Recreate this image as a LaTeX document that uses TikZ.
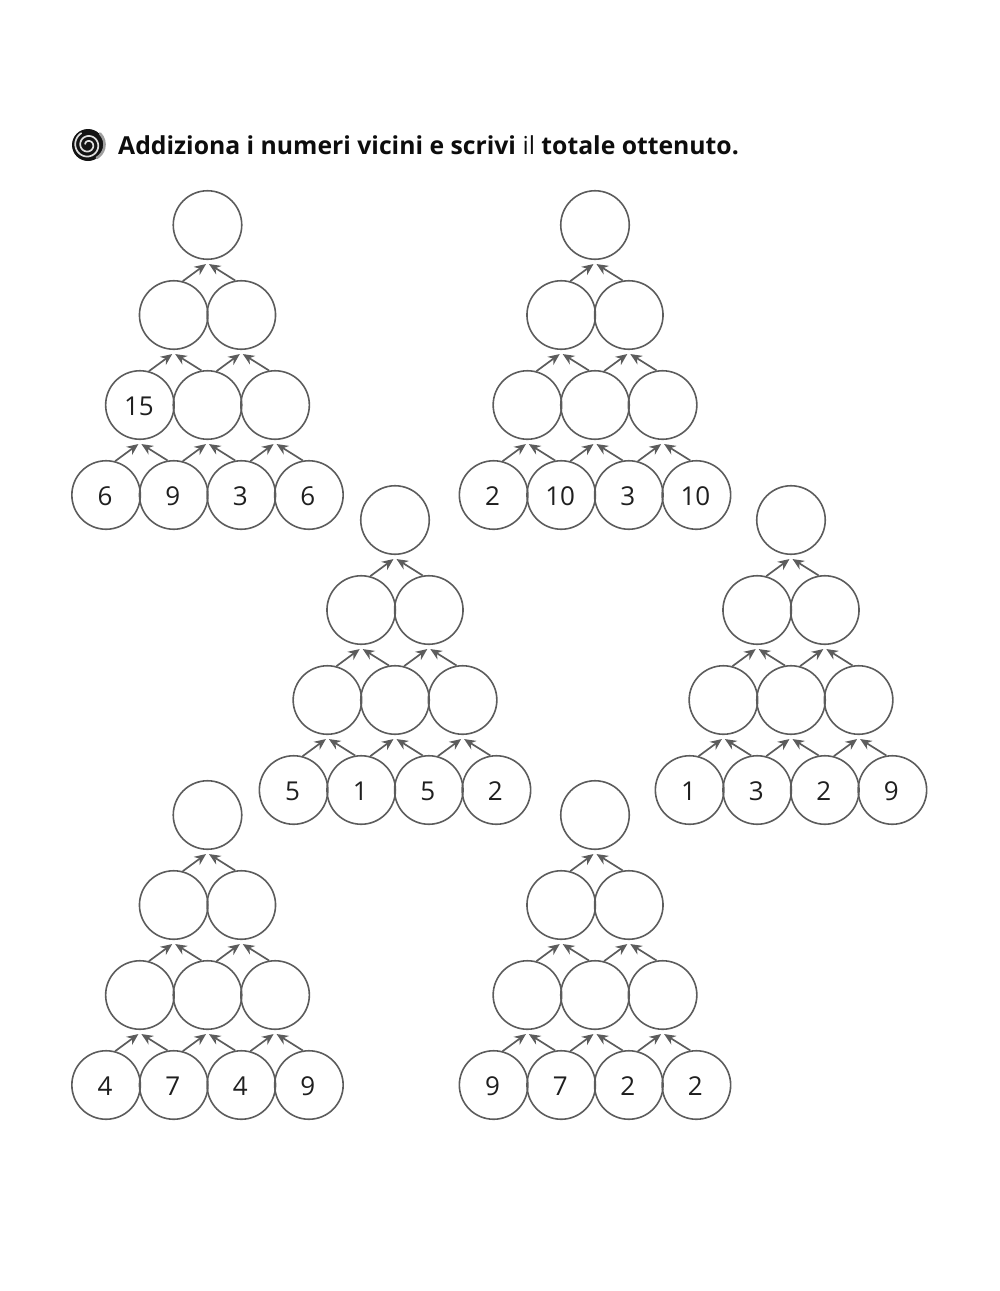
\documentclass[tikz,border=0pt]{standalone}
\usepackage{fontspec}
\setmainfont{Open Sans}
\usetikzlibrary{arrows.meta}
\definecolor{ringgray}{gray}{0.36}
\definecolor{arrowgray}{gray}{0.36}
\tikzset{
  ring/.style={circle,draw=ringgray,line width=1.6pt,minimum size=68.5pt,inner sep=0pt,
    font=\fontsize{26}{28}\selectfont,text=black!88},
  uparrow/.style={draw=arrowgray,line width=1.7pt,-{Stealth[length=11.5pt,width=10pt]}}
}
\newcommand{\lbl}[1]{\raisebox{-1pt}[19pt][0pt]{\hspace*{-2pt}#1}}
% child at lower left of its parent / lower right of its parent
\newcommand{\arrowfromleft}[2]{\path[uparrow] (#1.75) -- ([shift={(-1.5,4)}]#2.south);}
\newcommand{\arrowfromright}[2]{\path[uparrow] (#1.100) -- ([shift={(1.5,4)}]#2.south);}
\newcommand{\pyramid}[8]{%
  \begin{scope}[shift={(#2,#3)}]
    \node[ring] (#1t)  at (0,0) {};
    \node[ring] (#1ma) at (-33.8,90) {};
    \node[ring] (#1mb) at (33.8,90) {};
    \node[ring] (#1na) at (-67.6,180) {\lbl{#8}};
    \node[ring] (#1nb) at (0,180) {};
    \node[ring] (#1nc) at (67.6,180) {};
    \node[ring] (#1ba) at (-101.4,270) {\lbl{#4}};
    \node[ring] (#1bb) at (-33.8,270) {\lbl{#5}};
    \node[ring] (#1bc) at (33.8,270) {\lbl{#6}};
    \node[ring] (#1bd) at (101.4,270) {\lbl{#7}};
    \arrowfromleft{#1ma}{#1t}  \arrowfromright{#1mb}{#1t}
    \arrowfromleft{#1na}{#1ma} \arrowfromright{#1nb}{#1ma}
    \arrowfromleft{#1nb}{#1mb} \arrowfromright{#1nc}{#1mb}
    \arrowfromleft{#1ba}{#1na} \arrowfromright{#1bb}{#1na}
    \arrowfromleft{#1bb}{#1nb} \arrowfromright{#1bc}{#1nb}
    \arrowfromleft{#1bc}{#1nc} \arrowfromright{#1bd}{#1nc}
  \end{scope}}
\begin{document}
\begin{tikzpicture}[x=1pt,y=-1pt]
\useasboundingbox (0,0) rectangle (1000,1291);
% spiral icon
\fill[black!92] (88,145) circle (16);
\draw[white!75!gray,line width=1.7pt,line cap=round,domain=0:760,samples=160,smooth,variable=\t]
  plot ({88+(3+\t/72)*cos(\t+200)},{145+(3+\t/72)*sin(\t+200)});
\path[draw=gray!75,line width=2.6pt,line cap=round] (100,133.5) arc[start angle=-45,end angle=60,radius=15.5];
\node[anchor=base west,inner sep=0pt,font=\fontsize{24.75}{28}\selectfont\bfseries,text=black!95] (title) at (118,154)
  {Addiziona i numeri vicini e scrivi {\mdseries il} totale ottenuto.};
\pyramid{a}{207.5}{225}{6}{9}{3}{6}{15}
\pyramid{b}{595}{225}{2}{10}{3}{10}{}
\pyramid{c}{395}{520}{5}{1}{5}{2}{}
\pyramid{d}{791}{520}{1}{3}{2}{9}{}
\pyramid{e}{207.5}{815}{4}{7}{4}{9}{}
\pyramid{f}{595}{815}{9}{7}{2}{2}{}
\end{tikzpicture}
\end{document}
